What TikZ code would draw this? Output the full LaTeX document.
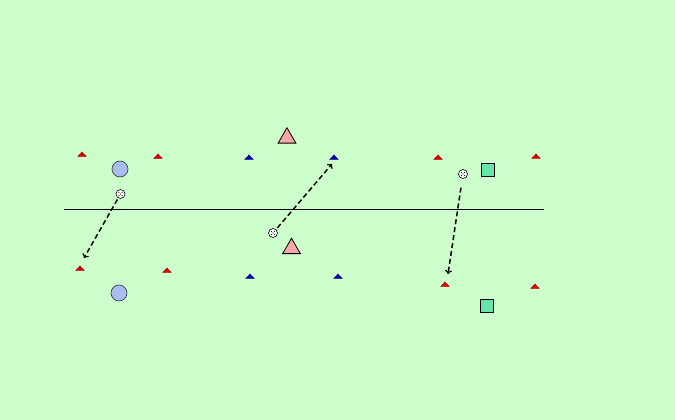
\documentclass[tikz,border=0pt]{standalone}
\usepackage{tikz}
\usetikzlibrary{arrows,shapes,positioning}
\definecolor{pitch}{RGB}{204,255,204}
\definecolor{conered}{RGB}{222,0,0}
\definecolor{coneblue}{RGB}{0,0,170}
\definecolor{mannpink}{RGB}{245,168,168}
\definecolor{mannblue}{RGB}{168,190,240}
\definecolor{manngreen}{RGB}{102,228,170}
\begin{document}
\begin{tikzpicture}[x=10pt,y=10pt]
                \tikzstyle{every node}+=[inner sep=0pt]
                \tikzstyle{cone}=[regular polygon, regular polygon sides=3, minimum size=10pt, yscale=0.62, transform shape, line width=0.3pt]
                \tikzstyle{redcone}=[cone, fill=conered, draw=conered!70!black]
                \tikzstyle{bluecone}=[cone, fill=coneblue, draw=coneblue!70!black]
                \tikzstyle{tri}=[regular polygon, regular polygon sides=3, minimum size=20.5pt, draw=black, fill=mannpink, line width=0.8pt]
                \tikzstyle{disc}=[circle, draw=black!80, fill=mannblue, minimum size=16pt, line width=0.6pt]
                \tikzstyle{box}=[rectangle, draw=black, fill=manngreen, minimum size=13pt, line width=0.8pt]
                \tikzstyle{ball}=[circle, draw=black, fill=white, minimum size=9pt, line width=0.6pt]
                \tikzstyle{pass}=[->, >=to, dashed, dash pattern=on 5pt off 3pt, line width=1.5pt]
                % pitch
                \fill [pitch] (0,0) rectangle (67.5,-42);
                \useasboundingbox (0,0) rectangle (67.5,-42);
                \draw [black, line width=0.8pt] (6.4,-20.9) -- (54.4,-20.9);
                % cones, top
                \node [redcone] (rt1) at (8.2,-15.5) {};
                \node [redcone] (rt2) at (15.8,-15.7) {};
                \node [bluecone] (bt1) at (24.9,-15.8) {};
                \node [bluecone] (bt2) at (33.4,-15.8) {};
                \node [redcone] (rt3) at (43.8,-15.8) {};
                \node [redcone] (rt4) at (53.6,-15.7) {};
                % cones, bottom
                \node [redcone] (rb1) at (8.0,-26.9) {};
                \node [redcone] (rb2) at (16.7,-27.1) {};
                \node [bluecone] (bb1) at (25.0,-27.7) {};
                \node [bluecone] (bb2) at (33.8,-27.7) {};
                \node [redcone] (rb3) at (44.5,-28.5) {};
                \node [redcone] (rb4) at (53.5,-28.7) {};
                % players
                \node [disc] (p1) at (12.0,-16.9) {};
                \node [disc] (p2) at (11.9,-29.3) {};
                \node [tri] (p3) at (28.7,-13.8) {};
                \node [tri] (p4) at (29.15,-24.85) {};
                \node [box] (p5) at (48.8,-17.0) {};
                \node [box] (p6) at (48.7,-30.6) {};
                % balls
                \node [ball] (b1) at (12.05,-19.4) {};
                \node [ball] (b2) at (27.3,-23.3) {};
                \node [ball] (b3) at (46.3,-17.4) {};
                \foreach \b in {b1,b2,b3} {
                    \fill (\b.center) circle (0.7pt);
                    \foreach \a in {45,135,225,315}
                        \fill ([shift={(\a:2.2pt)}]\b.center) circle (0.6pt);
                }
                \coordinate (e1) at (8.4,-25.8);
                \coordinate (e2) at (33.2,-16.4);
                \coordinate (e3) at (44.8,-27.4);
                % passes
                \draw [pass, shorten <=1.5pt] (b1) -- (e1);
                \draw [pass, shorten <=2pt] (b2) -- (e2);
                \draw [pass, shorten <=9pt] (b3) -- (e3);
            \end{tikzpicture}
\end{document}
